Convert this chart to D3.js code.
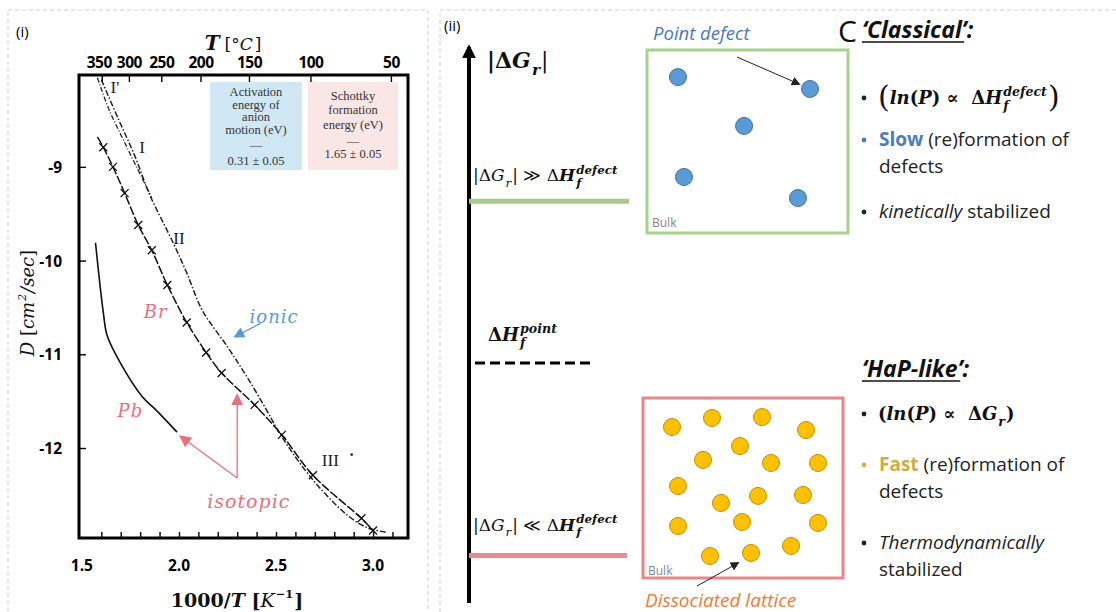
<!DOCTYPE html>
<html>
<head>
<meta charset="utf-8">
<script src="https://d3js.org/d3.v7.min.js"></script>
<style>
body { margin: 0; background: #fff; }
text { font-family: "Liberation Serif", serif; white-space: pre; }
text.math, .math text { font-family: "DejaVu Serif", serif; }
text.sans, .sans text { font-family: "Open Sans", "Lato", sans-serif; }
</style>
</head>
<body>
<div id="fig"></div>
<script>
// ---- panel (i): log10 D vs 1000/T ----
var xTicks = [1.5, 2.0, 2.5, 3.0];
var xMinor = [1.6, 1.7, 1.8, 1.9, 2.0, 2.1, 2.2, 2.3, 2.4, 2.5, 2.6, 2.7, 2.8, 2.9, 3.0, 3.1];
var yTicks = [-9, -10, -11, -12];
var topTemps = [350, 300, 250, 200, 150, 100, 50];

var ionicMain = [[1.60,-8.07],[1.69,-8.50],[1.77,-8.87],[1.85,-9.30],[1.97,-9.81],[2.04,-10.13],
  [2.12,-10.53],[2.25,-10.92],[2.35,-11.24],[2.45,-11.59],[2.53,-11.88],[2.69,-12.34],
  [2.87,-12.72],[2.97,-12.85],[3.07,-12.90]];
var ionicPrime = [[1.58,-8.05],[1.64,-8.39],[1.72,-8.74],[1.81,-9.12],[1.86,-9.33]];
var brIso = [[1.58,-8.68],[1.61,-8.79],[1.66,-9.00],[1.72,-9.28],[1.79,-9.62],[1.86,-9.89],
  [1.94,-10.26],[2.04,-10.66],[2.14,-10.98],[2.22,-11.20],[2.39,-11.54],[2.53,-11.86],
  [2.69,-12.29],[2.94,-12.75],[3.00,-12.88]];
var pbIso = [[1.57,-9.81],[1.61,-10.55],[1.63,-10.80],[1.70,-11.10],[1.81,-11.45],[1.88,-11.59],[1.99,-11.83]];

var romanText = ["I'", "I", "II", "III"];
var romanPos = [[1.67,-8.15],[1.81,-8.79],[2.00,-9.76],[2.78,-12.13]];

var legendBlue = ["Activation", "energy of", "anion", "motion (eV)", "\u2014", "0.31 \u00b1 0.05"];
var legendPink = ["Schottky", "formation", "energy (eV)", "\u2014", "1.65 \u00b1 0.05"];

// ---- panel (ii): schematic ----
var levelValues = [0.72, 0.43, 0.085];   // high, point, low |dG_r|
var classicalSites = [[0.154,0.148],[0.811,0.213],[0.483,0.415],[0.184,0.694],[0.751,0.809]];
var hapSites = [[0.145,0.161],[0.345,0.111],[0.595,0.106],[0.815,0.178],[0.485,0.267],[0.300,0.344],
  [0.640,0.361],[0.875,0.361],[0.175,0.489],[0.390,0.583],[0.575,0.544],[0.800,0.539],
  [0.175,0.711],[0.495,0.689],[0.875,0.694],[0.335,0.878],[0.540,0.861],[0.740,0.822]];

var W = 1116, H = 612;
var svg = d3.select("#fig").append("svg").attr("width", W).attr("height", H);

var defs = svg.append("defs");
function marker(id, color, size) {
  defs.append("marker").attr("id", id).attr("viewBox", "0 0 10 10").attr("refX", 8).attr("refY", 5)
    .attr("markerWidth", size).attr("markerHeight", size).attr("orient", "auto")
    .attr("markerUnits", "userSpaceOnUse")
    .append("path").attr("d", "M0,0 L10,5 L0,10 z").attr("fill", color);
}
marker("pinkArrow", "#e8707c", 12);
marker("blueArrow", "#5b9bd5", 11);
marker("blackArrow", "#222", 9);
marker("axisArrow", "#000", 14);

// math-ish text: parts laid out left to right, measured as we go
function mathText(parent, x, y, parts, size, anchor) {
  var g = parent.append("g").attr("class", "math");
  var cx = 0;
  parts.forEach(function(p) {
    if (p.sup !== undefined || p.sub !== undefined) {
      var w = 0, ss = size * (p.r || 0.7);
      if (p.sup) {
        var t1 = g.append("text").attr("x", cx + 1).attr("y", -size * 0.45).attr("font-size", ss)
          .attr("font-weight", p.b ? "bold" : "normal").attr("font-style", p.i ? "italic" : "normal")
          .attr("fill", p.c || "#111").text(p.sup);
        w = Math.max(w, t1.node().getComputedTextLength());
      }
      if (p.sub) {
        var t2 = g.append("text").attr("x", cx + 1).attr("y", size * 0.32).attr("font-size", ss)
          .attr("font-weight", p.b ? "bold" : "normal").attr("font-style", p.i ? "italic" : "normal")
          .attr("fill", p.c || "#111").text(p.sub);
        w = Math.max(w, t2.node().getComputedTextLength());
      }
      cx += w + 2;
    } else {
      var t = g.append("text").attr("x", cx).attr("y", p.dy || 0).attr("font-size", p.size || size)
        .attr("font-weight", p.b ? "bold" : "normal").attr("font-style", p.i ? "italic" : "normal")
        .attr("fill", p.c || "#111").text(p.t);
      cx += t.node().getComputedTextLength() + (p.gap || 0);
    }
  });
  var dx = anchor === "middle" ? -cx / 2 : 0;
  g.attr("transform", "translate(" + (x + dx) + "," + y + ")");
  return g;
}

// dashed panel borders
svg.append("rect").attr("x", 8).attr("y", 10).attr("width", 420).attr("height", 640)
  .attr("fill", "none").attr("stroke", "#cfcfcf").attr("stroke-dasharray", "4,3");
svg.append("rect").attr("x", 440).attr("y", 10).attr("width", 690).attr("height", 640)
  .attr("fill", "none").attr("stroke", "#cfcfcf").attr("stroke-dasharray", "4,3");

// ================= panel (i) =================
var fL = 79, fR = 408, fT = 75, fB = 538;
var x = d3.scaleLinear().domain([1.485, 3.18]).range([fL, fR]);
var y = d3.scaleLinear().domain([-8.02, -12.96]).range([fT, fB]);

var p1 = svg.append("g");
p1.append("text").attr("x", 16).attr("y", 37).attr("class", "sans").attr("font-size", 15).text("(i)");

// legend boxes
p1.append("rect").attr("x", 210).attr("y", 82).attr("width", 92).attr("height", 88).attr("fill", "#cfe8f4");
p1.append("rect").attr("x", 308).attr("y", 82).attr("width", 90).attr("height", 88).attr("fill", "#fbe6e6");
var blueY = [96, 109, 121, 134, 149, 165], pinkY = [100, 114, 129, 145, 158];
p1.selectAll(".lb").data(legendBlue).enter().append("text").attr("x", 256)
  .attr("y", function(d, i) { return blueY[i]; }).attr("text-anchor", "middle")
  .attr("font-size", 12.5).attr("fill", "#333").text(function(d) { return d; });
p1.selectAll(".lp").data(legendPink).enter().append("text").attr("x", 353)
  .attr("y", function(d, i) { return pinkY[i]; }).attr("text-anchor", "middle")
  .attr("font-size", 12.5).attr("fill", "#333").text(function(d) { return d; });

// frame
p1.append("rect").attr("x", fL).attr("y", fT).attr("width", fR - fL).attr("height", fB - fT)
  .attr("fill", "none").attr("stroke", "#000").attr("stroke-width", 3);

// bottom ticks (inward) + labels
p1.append("g").attr("transform", "translate(0," + fB + ")")
  .call(d3.axisTop(x).tickValues(xMinor).tickSize(6).tickFormat(""))
  .call(function(g) { g.select(".domain").remove(); g.selectAll("line").attr("stroke-width", 1.4); });
p1.selectAll(".xl").data(xTicks).enter().append("text").attr("class", "sans")
  .attr("x", function(d) { return x(d); }).attr("y", 571).attr("text-anchor", "middle")
  .attr("font-size", 15.5).attr("font-weight", "bold").text(function(d) { return d.toFixed(1); });

// left ticks
p1.append("g").attr("transform", "translate(" + fL + ",0)")
  .call(d3.axisRight(y).tickValues(yTicks).tickSize(7).tickFormat(""))
  .call(function(g) { g.select(".domain").remove(); g.selectAll("line").attr("stroke-width", 1.4); });
p1.selectAll(".yl").data(yTicks).enter().append("text").attr("class", "sans")
  .attr("x", 62).attr("y", function(d) { return y(d) + 6; }).attr("text-anchor", "end")
  .attr("font-size", 15.5).attr("font-weight", "bold").text(function(d) { return d; });

// top temperature axis
function tx(T) { return x(1000 / (T + 273.15)); }
p1.selectAll(".tt").data(topTemps).enter().append("line")
  .attr("x1", tx).attr("x2", tx).attr("y1", fT).attr("y2", fT + 7)
  .attr("stroke", "#000").attr("stroke-width", 1.4);
p1.selectAll(".tl").data(topTemps).enter().append("text").attr("class", "sans")
  .attr("x", function(d) { return tx(d) - (d === 350 ? 3 : 0); }).attr("y", 68).attr("text-anchor", "middle")
  .attr("font-size", 15.5).attr("font-weight", "bold").style("letter-spacing", "-0.5px").text(function(d) { return d; });

mathText(p1, 233, 50, [{t: "T", b: 1, i: 1, size: 20, gap: 5}, {t: "[\u00b0"}, {t: "C", i: 1, gap: 2}, {t: "]"}], 17, "middle");
mathText(p1, 237, 607, [{t: "1000/", b: 1}, {t: "T", b: 1, i: 1}, {t: " [", b: 1}, {t: "K", i: 1},
  {sup: "\u22121", b: 1, r: 0.6}, {t: "]", b: 1}], 19, "middle");
var yt = p1.append("g").attr("transform", "translate(34,303) rotate(-90)");
mathText(yt, 0, 0, [{t: "D", i: 1}, {t: " ["}, {t: "cm", i: 1}, {sup: "2", i: 1, r: 0.6}, {t: "/", i: 1}, {t: "sec", i: 1}, {t: "]"}], 18, "middle");

// curves
var line = d3.line().x(function(d) { return x(d[0]); }).y(function(d) { return y(d[1]); })
  .curve(d3.curveCatmullRom);
p1.append("path").attr("d", line(ionicPrime)).attr("fill", "none").attr("stroke", "#222")
  .attr("stroke-width", 1.3).attr("stroke-dasharray", "5,2,1,2");
p1.append("path").attr("d", line(ionicMain)).attr("fill", "none").attr("stroke", "#222")
  .attr("stroke-width", 1.5).attr("stroke-dasharray", "6,2,1.5,2");
p1.append("path").attr("d", line(brIso)).attr("fill", "none").attr("stroke", "#111")
  .attr("stroke-width", 1.5).attr("stroke-dasharray", "9,2");
p1.append("path").attr("d", line(pbIso)).attr("fill", "none").attr("stroke", "#111").attr("stroke-width", 1.6);
var cr = 4;
p1.selectAll(".cross").data(brIso.slice(1)).enter().append("path")
  .attr("d", function(d) {
    var cx = x(d[0]), cy = y(d[1]);
    return "M" + (cx - cr) + "," + (cy - cr) + "L" + (cx + cr) + "," + (cy + cr) +
      "M" + (cx - cr) + "," + (cy + cr) + "L" + (cx + cr) + "," + (cy - cr);
  }).attr("stroke", "#111").attr("stroke-width", 1.3);

p1.selectAll(".roman").data(romanText).enter().append("text")
  .attr("x", function(d, i) { return x(romanPos[i][0]); })
  .attr("y", function(d, i) { return y(romanPos[i][1]) + 6; })
  .attr("text-anchor", "middle").attr("font-size", 17).attr("fill", "#222").text(function(d) { return d; });
p1.append("circle").attr("cx", x(2.89)).attr("cy", y(-12.07)).attr("r", 1.3).attr("fill", "#222");

// coloured annotations
var pink = "#e8707c", blue = "#5b9bd5";
function note(t, px, py, color, size) {
  p1.append("text").attr("class", "math").attr("x", x(px)).attr("y", y(py)).attr("text-anchor", "middle")
    .attr("font-size", size).attr("font-style", "italic").attr("fill", color)
    .style("letter-spacing", "1px").text(t);
}
note("Br", 1.88, -10.61, pink, 18);
note("Pb", 1.75, -11.67, pink, 18);
note("ionic", 2.49, -10.67, blue, 18);
note("isotopic", 2.36, -12.64, pink, 19);

function arrow(a, b, color, id) {
  p1.append("line").attr("x1", x(a[0])).attr("y1", y(a[1])).attr("x2", x(b[0])).attr("y2", y(b[1]))
    .attr("stroke", color).attr("stroke-width", 1.3).attr("marker-end", "url(#" + id + ")");
}
arrow([2.30, -12.32], [2.30, -11.44], pink, "pinkArrow");
arrow([2.30, -12.32], [2.01, -11.88], pink, "pinkArrow");
arrow([2.42, -10.67], [2.29, -10.81], blue, "blueArrow");

// ================= panel (ii) =================
var p2 = svg.append("g");
p2.append("text").attr("x", 444).attr("y", 31).attr("class", "sans").attr("font-size", 15).text("(ii)");

var e = d3.scaleLinear().domain([0, 1]).range([603, 45]);
var axX = 469;
p2.append("line").attr("x1", axX).attr("x2", axX).attr("y1", e(0)).attr("y2", e(1) + 2)
  .attr("stroke", "#000").attr("stroke-width", 4).attr("marker-end", "url(#axisArrow)");
mathText(p2, 487, 68, [{t: "|\u0394", b: 1}, {t: "G", b: 1, i: 1}, {sub: "r", b: 1, i: 1}, {t: "|"}], 22);

// energy levels
p2.append("line").attr("x1", axX).attr("x2", 629).attr("y1", e(levelValues[0])).attr("y2", e(levelValues[0]))
  .attr("stroke", "#a9c98f").attr("stroke-width", 5);
p2.append("line").attr("x1", 475).attr("x2", 592).attr("y1", e(levelValues[1])).attr("y2", e(levelValues[1]))
  .attr("stroke", "#000").attr("stroke-width", 3).attr("stroke-dasharray", "10,5");
p2.append("line").attr("x1", axX).attr("x2", 627).attr("y1", e(levelValues[2])).attr("y2", e(levelValues[2]))
  .attr("stroke", "#e88b8d").attr("stroke-width", 5);

mathText(p2, 473, e(levelValues[0]) - 20, [{t: "|\u0394"}, {t: "G", i: 1}, {sub: "r", i: 1}, {t: "| \u226b \u0394"},
  {t: "H", b: 1, i: 1}, {sup: "defect", sub: "f", b: 1, i: 1}], 17);
mathText(p2, 488, e(levelValues[1]) - 22, [{t: "\u0394", b: 1}, {t: "H", b: 1, i: 1},
  {sup: "point", sub: "f", b: 1, i: 1}], 18);
mathText(p2, 473, e(levelValues[2]) - 25, [{t: "|\u0394"}, {t: "G", i: 1}, {sub: "r", i: 1}, {t: "| \u226a \u0394"},
  {t: "H", b: 1, i: 1}, {sup: "defect", sub: "f", b: 1, i: 1}], 17);

// classical box
var gx = d3.scaleLinear().domain([0, 1]).range([647, 848]);
var gy = d3.scaleLinear().domain([0, 1]).range([50, 233]);
p2.append("rect").attr("x", gx(0)).attr("y", gy(0)).attr("width", gx(1) - gx(0)).attr("height", gy(1) - gy(0))
  .attr("fill", "none").attr("stroke", "#a9d18e").attr("stroke-width", 3);
p2.selectAll(".bdot").data(classicalSites).enter().append("circle")
  .attr("cx", function(d) { return gx(d[0]); }).attr("cy", function(d) { return gy(d[1]); })
  .attr("r", 8.5).attr("fill", "#5b9bd5").attr("stroke", "#41719c").attr("stroke-width", 1);
p2.append("text").attr("class", "sans").attr("x", 652).attr("y", 227).attr("font-size", 12)
  .attr("fill", "#8a7f95").text("Bulk");
p2.append("text").attr("class", "sans").attr("x", 653).attr("y", 40).attr("font-size", 18.5)
  .attr("font-style", "italic").attr("fill", "#4a76c0").text("Point defect");
p2.append("line").attr("x1", 737).attr("y1", 57).attr("x2", 799).attr("y2", 84)
  .attr("stroke", "#222").attr("stroke-width", 1).attr("marker-end", "url(#blackArrow)");

// HaP box
var rx = d3.scaleLinear().domain([0, 1]).range([643, 843]);
var ry = d3.scaleLinear().domain([0, 1]).range([398, 578]);
p2.append("rect").attr("x", rx(0)).attr("y", ry(0)).attr("width", rx(1) - rx(0)).attr("height", ry(1) - ry(0))
  .attr("fill", "none").attr("stroke", "#e8868a").attr("stroke-width", 3);
p2.selectAll(".ydot").data(hapSites).enter().append("circle")
  .attr("cx", function(d) { return rx(d[0]); }).attr("cy", function(d) { return ry(d[1]); })
  .attr("r", 8.5).attr("fill", "#ffc000").attr("stroke", "#c09000").attr("stroke-width", 1);
p2.append("text").attr("class", "sans").attr("x", 648).attr("y", 575).attr("font-size", 12)
  .attr("fill", "#7f8a99").text("Bulk");
p2.append("text").attr("class", "sans").attr("x", 645).attr("y", 607).attr("font-size", 19)
  .attr("font-style", "italic").attr("fill", "#ed7d31").text("Dissociated lattice");
p2.append("line").attr("x1", 697).attr("y1", 586).attr("x2", 738).attr("y2", 563)
  .attr("stroke", "#222").attr("stroke-width", 1).attr("marker-end", "url(#blackArrow)");

// ---- text column ----
var tc = svg.append("g").attr("class", "sans");
tc.append("text").attr("x", 838).attr("y", 42).attr("font-size", 30).attr("fill", "#111").text("C");
function heading(t, yy) {
  var h = tc.append("text").attr("x", 862).attr("y", yy).attr("font-size", 23).attr("font-weight", "bold")
    .attr("font-style", "italic").attr("fill", "#111").text(t);
  var w = h.node().getComputedTextLength() - 9;
  tc.append("line").attr("x1", 862).attr("x2", 862 + w).attr("y1", yy + 4).attr("y2", yy + 4)
    .attr("stroke", "#111").attr("stroke-width", 1.5);
}
heading("\u2018Classical\u2019:", 38);
heading("\u2018HaP-like\u2019:", 377);

function bullet(yy, color) {
  tc.append("circle").attr("cx", 864).attr("cy", yy).attr("r", 2.4).attr("fill", color || "#222");
}
function textLine(yy, parts) {
  var t = tc.append("text").attr("x", 879).attr("y", yy).attr("font-size", 19).attr("fill", "#222");
  parts.forEach(function(p) {
    t.append("tspan").attr("font-weight", p.b ? "bold" : "normal").attr("font-style", p.i ? "italic" : "normal")
      .attr("fill", p.c || "#222").text(p.t);
  });
}

bullet(98);
mathText(svg, 878, 104, [{t: "(", size: 30, dy: 3}, {t: "ln", b: 1, i: 1}, {t: "(", b: 1}, {t: "P", b: 1, i: 1},
  {t: ") \u221d  \u0394", b: 1}, {t: "H", b: 1, i: 1}, {sup: "defect", sub: "f", b: 1, i: 1},
  {t: ")", size: 30, dy: 3}], 18);
bullet(140, "#4a7ebb");
textLine(146, [{t: "Slow", b: 1, c: "#4a7ebb"}, {t: " (re)formation of"}]);
textLine(173, [{t: "defects"}]);
bullet(212);
textLine(218, [{t: "kinetically", i: 1}, {t: " stabilized"}]);

bullet(414);
mathText(svg, 878, 420, [{t: "(", b: 1}, {t: "ln", b: 1, i: 1}, {t: "(", b: 1}, {t: "P", b: 1, i: 1},
  {t: ") \u221d  \u0394", b: 1}, {t: "G", b: 1, i: 1}, {sub: "r", b: 1, i: 1}, {t: ")", b: 1}], 18);
bullet(465, "#d4b44a");
textLine(471, [{t: "Fast", b: 1, c: "#cfae3e"}, {t: " (re)formation of"}]);
textLine(498, [{t: "defects"}]);
bullet(543);
textLine(549, [{t: "Thermodynamically", i: 1}]);
textLine(576, [{t: "stabilized"}]);
</script>
</body>
</html>
